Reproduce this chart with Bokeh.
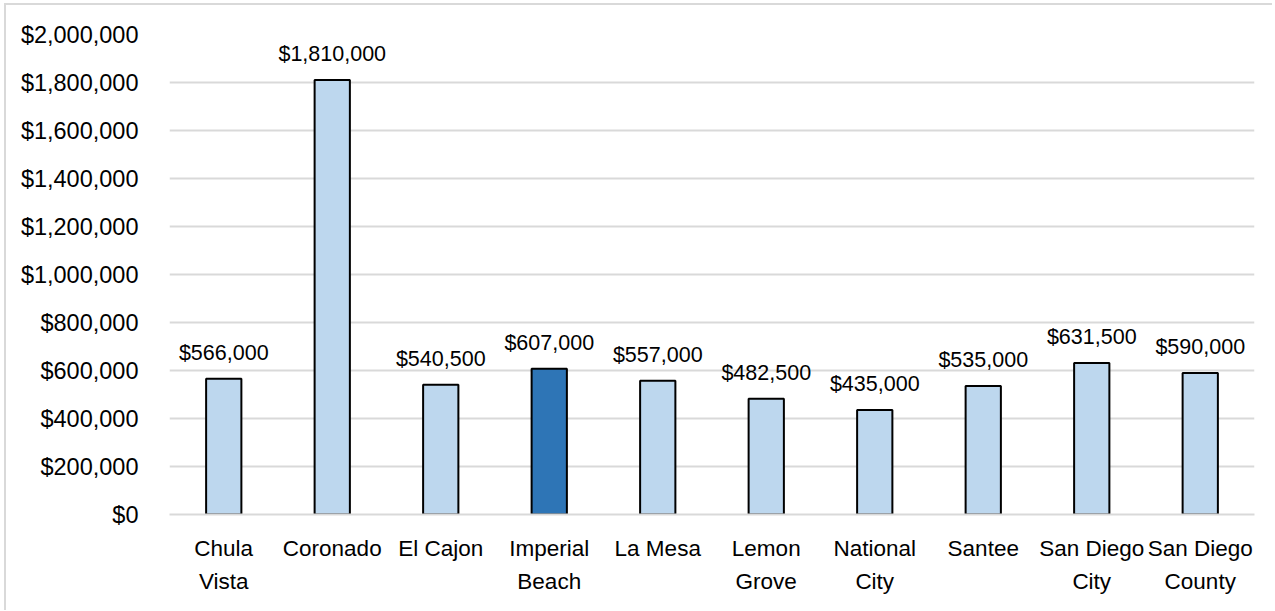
from bokeh.plotting import figure
from bokeh.models import ColumnDataSource, NumeralTickFormatter, FixedTicker
from bokeh.core.properties import value
from bokeh.embed import file_html
from bokeh.resources import INLINE

# Median home sales price by jurisdiction
cities = ["Chula\nVista", "Coronado", "El Cajon", "Imperial\nBeach", "La Mesa",
          "Lemon\nGrove", "National\nCity", "Santee", "San Diego\nCity", "San Diego\nCounty"]
prices = [566000, 1810000, 540500, 607000, 557000, 482500, 435000, 535000, 631500, 590000]
highlight = "Imperial\nBeach"
y_ticks = list(range(0, 2000001, 200000))

base_color = "#BDD7EE"
accent_color = "#2E75B6"
font = "Liberation Sans"

src = ColumnDataSource(dict(
    city=cities,
    price=prices,
    label=["${:,.0f}".format(v) for v in prices],
    color=[accent_color if c == highlight else base_color for c in cities],
))

p = figure(
    x_range=cities, y_range=(0, 2000000),
    width=1268, height=607,
    output_backend="svg", toolbar_location=None,
    min_border_left=163, min_border_right=20,
    min_border_top=29, min_border_bottom=98,
)
p.styles = {"border-top": "2px solid #d9d9d9", "border-left": "2px solid #d9d9d9",
            "margin-top": "3px", "margin-left": "4px"}
p.outline_line_color = None
p.background_fill_color = "white"
p.border_fill_color = "white"

p.vbar(x="city", top="price", width=0.325, source=src,
       fill_color="color", line_color="black", line_width=2)

p.text(x="city", y="price", text="label", source=src,
       text_align="center", text_baseline="bottom", y_offset=-14,
       text_font=value(font), text_font_size="21.5px", text_color="#000000")

# grid
p.xgrid.grid_line_color = None
p.ygrid.grid_line_color = "#D9D9D9"
p.ygrid.grid_line_width = 2
p.ygrid.ticker = FixedTicker(ticks=y_ticks)

# y axis
p.yaxis.ticker = FixedTicker(ticks=y_ticks)
p.yaxis.formatter = NumeralTickFormatter(format="$0,0")
p.yaxis.axis_line_color = None
p.yaxis.major_tick_line_color = None
p.yaxis.minor_tick_line_color = None
p.yaxis.major_label_standoff = 25
p.yaxis.major_label_text_font = font
p.yaxis.major_label_text_font_size = "23.5px"
p.yaxis.major_label_text_color = "#000000"

# x axis
p.xaxis.axis_line_color = "#D9D9D9"
p.xaxis.axis_line_width = 2
p.xaxis.major_tick_line_color = None
p.xaxis.minor_tick_line_color = None
p.xaxis.major_label_standoff = 15
p.xaxis.major_label_text_font = font
p.xaxis.major_label_text_font_size = "22.5px"
p.xaxis.major_label_text_color = "#000000"
p.xaxis.major_label_text_line_height = 1.35
p.xaxis.major_label_text_align = "center"
p.xaxis.major_label_text_baseline = "top"
p.xaxis.major_label_orientation = "horizontal"

open("out.html", "w").write(file_html(p, INLINE))
